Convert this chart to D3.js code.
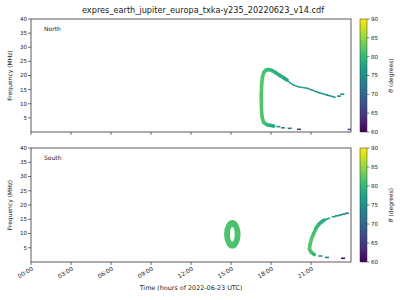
<!DOCTYPE html>
<html><head><meta charset="utf-8">
<script src="https://cdn.jsdelivr.net/npm/d3@7"></script>
<style>
body{margin:0;background:#fff}
text{font-family:"DejaVu Sans",sans-serif;fill:#222}
</style>
</head><body><svg id="c" width="400" height="300"></svg>
<script>
const title = "expres_earth_jupiter_europa_txka-y235_20220623_v14.cdf";
const panelNames = ["North", "South"];
const timeTicks = [0, 3, 6, 9, 12, 15, 18, 21];
const timeTickLabels = ["00:00", "03:00", "06:00", "09:00", "12:00", "15:00", "18:00", "21:00"];
const freqTicks = [5, 10, 15, 20, 25, 30, 35, 40];
const thetaTicks = [60, 65, 70, 75, 80, 85, 90];

// North: thick core (C shape), thin tail, isolated dots  (hours, MHz, theta deg)
const northCoreT  = [18.2, 17.75, 17.45, 17.32, 17.28, 17.27, 17.3, 17.36, 17.47, 17.62, 17.8, 18.05, 18.35, 18.7, 19.0, 19.2];
const northCoreF  = [2.1, 2.5, 3.4, 5.5, 9.0, 13.0, 17.0, 19.6, 21.1, 21.9, 22.1, 21.8, 21.0, 19.9, 19.0, 18.4];
const northCoreTh = [77, 79, 81, 82, 82, 82, 82, 82, 81.5, 81, 80.5, 80, 79.5, 79, 78.5, 78];
const northTailT  = [19.2, 19.4, 19.7, 20.05, 20.7, 21.05, 21.55, 22.2, 22.8];
const northTailF  = [18.4, 17.5, 16.6, 16.0, 15.5, 14.9, 14.0, 13.1, 12.3];
const northTailTh = [78, 77.5, 77, 77, 76.5, 76, 75.5, 75, 74.5];
const northDotT   = [18.55, 18.9, 19.4, 20.1, 23.1, 23.35, 23.9];
const northDotF   = [1.9, 1.5, 1.3, 0.95, 12.7, 13.4, 0.9];
const northDotTh  = [76, 74, 72, 66, 74, 74, 68];

// South
const southRingT = 15.1, southRingF = 9.7, southRingTh = 81.5;
const southRingOuterDT = 0.62, southRingOuterDF = 5.0;
const southRingInnerDT = 0.18, southRingInnerDF = 2.6;
const southCoreT  = [21.25, 21.0, 20.88, 20.92, 21.05, 21.2, 21.4, 21.6, 21.8, 22.0];
const southCoreF  = [2.6, 3.5, 4.6, 6.0, 8.3, 10.0, 12.0, 13.3, 14.1, 14.7];
const southCoreTh = [79, 81, 82, 82, 82, 81.5, 81, 80, 79, 78.5];
const southTailT  = [22.0, 22.2, 22.4];
const southTailF  = [14.7, 15.1, 15.4];
const southTailTh = [78.5, 78, 77.5];
const southDotT   = [21.7, 22.2, 22.7, 22.95, 23.2, 23.45, 23.7, 23.4];
const southDotF   = [2.1, 1.6, 15.9, 16.2, 16.5, 16.8, 17.1, 1.3];
const southDotTh  = [76, 72, 77, 76, 75, 74, 73, 61];

const svg = d3.select("#c");
const X0 = 31, X1 = 351;
const panelsY = [[19, 132], [148, 262]];
const x = d3.scaleLinear().domain([0, 24]).range([X0, X1]);
const color = d3.scaleSequential(d3.interpolateViridis).domain([60, 90]);

svg.append("text").attr("x", 203).attr("y", 13).attr("text-anchor", "middle")
  .style("font-size", "8.2px").text(title);

const datasets = [
  {core:[northCoreT,northCoreF,northCoreTh], tail:[northTailT,northTailF,northTailTh], dots:[northDotT,northDotF,northDotTh], ring:null},
  {core:[southCoreT,southCoreF,southCoreTh], tail:[southTailT,southTailF,southTailTh], dots:[southDotT,southDotF,southDotTh], ring:true}
];

const defs = svg.append("defs");
const grad = defs.append("linearGradient").attr("id", "vir").attr("x1", 0).attr("x2", 0).attr("y1", 1).attr("y2", 0);
d3.range(0, 1.0001, 0.05).forEach(t => grad.append("stop").attr("offset", t).attr("stop-color", d3.interpolateViridis(t)));

panelsY.forEach(([top, bot], i) => {
  const y = d3.scaleLinear().domain([0, 40]).range([bot, top]);
  const g = svg.append("g");
  const d = datasets[i];
  const clipId = "clip" + i;
  defs.append("clipPath").attr("id", clipId).append("rect").attr("x", X0).attr("y", top).attr("width", X1 - X0).attr("height", bot - top);
  const plot = g.append("g").attr("clip-path", `url(#${clipId})`);

  if (d.ring) {
    const cx = x(southRingT), cy = y(southRingF);
    const orx = x(southRingT + southRingOuterDT) - cx, ory = cy - y(southRingF + southRingOuterDF);
    const irx = x(southRingT + southRingInnerDT) - cx, iry = cy - y(southRingF + southRingInnerDF);
    const ell = (rx, ry) => `M${cx - rx},${cy}A${rx},${ry} 0 1,0 ${cx + rx},${cy}A${rx},${ry} 0 1,0 ${cx - rx},${cy}Z`;
    plot.append("path").attr("d", ell(orx, ory) + ell(irx, iry)).attr("fill-rule", "evenodd").attr("fill", color(southRingTh));
  }
  const drawLine = (arr, w) => {
    const [T, F, TH] = arr;
    for (let k = 0; k < T.length - 1; k++) {
      plot.append("line").attr("x1", x(T[k])).attr("y1", y(F[k])).attr("x2", x(T[k + 1])).attr("y2", y(F[k + 1]))
        .attr("stroke", color((TH[k] + TH[k + 1]) / 2)).attr("stroke-width", w).attr("stroke-linecap", "round");
    }
  };
  drawLine(d.core, 3.6);
  drawLine(d.tail, 1.5);
  const [DT, DF, DTH] = d.dots;
  DT.forEach((t, k) => {
    plot.append("rect").attr("x", x(t) - 2).attr("y", y(DF[k]) - 0.8).attr("width", 4).attr("height", 1.6).attr("fill", color(DTH[k]));
  });

  // frame
  g.append("rect").attr("x", X0).attr("y", top).attr("width", X1 - X0).attr("height", bot - top)
    .attr("fill", "none").attr("stroke", "#333").attr("stroke-width", 0.8);
  // y ticks
  freqTicks.forEach(v => {
    g.append("line").attr("x1", X0 - 3).attr("x2", X0).attr("y1", y(v)).attr("y2", y(v)).attr("stroke", "#333").attr("stroke-width", 0.7);
    g.append("text").attr("x", X0 - 4).attr("y", y(v)).attr("dy", "0.35em").attr("text-anchor", "end").style("font-size", "5.6px").text(v);
  });
  // x ticks
  timeTicks.forEach((v, k) => {
    g.append("line").attr("x1", x(v)).attr("x2", x(v)).attr("y1", bot).attr("y2", bot + 3).attr("stroke", "#333").attr("stroke-width", 0.7);
    if (i === 1) {
      g.append("text").attr("text-anchor", "end").attr("transform", `translate(${x(v) + 1},${bot + 5}) rotate(-30)`)
        .attr("dy", "0.6em").style("font-size", "5.8px").text(timeTickLabels[k]);
    }
  });
  g.append("text").attr("transform", `translate(12,${(top + bot) / 2}) rotate(-90)`).attr("text-anchor", "middle")
    .style("font-size", "6px").text("Frequency (MHz)");
  g.append("text").attr("x", 44).attr("y", top + 12).style("font-size", "6px").text(panelNames[i]);

  // colorbar
  const cbx = 360, cbw = 7;
  const cy = d3.scaleLinear().domain([60, 90]).range([bot, top]);
  svg.append("rect").attr("x", cbx).attr("y", top).attr("width", cbw).attr("height", bot - top).attr("fill", "url(#vir)")
    .attr("stroke", "#333").attr("stroke-width", 0.5);
  thetaTicks.forEach(v => {
    svg.append("line").attr("x1", cbx + cbw).attr("x2", cbx + cbw + 2.5).attr("y1", cy(v)).attr("y2", cy(v)).attr("stroke", "#333").attr("stroke-width", 0.6);
    svg.append("text").attr("x", cbx + cbw + 4).attr("y", cy(v)).attr("dy", "0.35em").style("font-size", "5.6px").text(v);
  });
  const lab = svg.append("text").attr("transform", `translate(393,${(top + bot) / 2}) rotate(-90)`).attr("text-anchor", "middle").style("font-size", "6px");
  lab.append("tspan").style("font-style", "italic").text("θ");
  lab.append("tspan").text(" (degrees)");
});

svg.append("text").attr("x", (X0 + X1) / 2).attr("y", 290).attr("text-anchor", "middle").style("font-size", "6.4px")
  .text("Time (hours of 2022-06-23 UTC)");
</script>
</body></html>
